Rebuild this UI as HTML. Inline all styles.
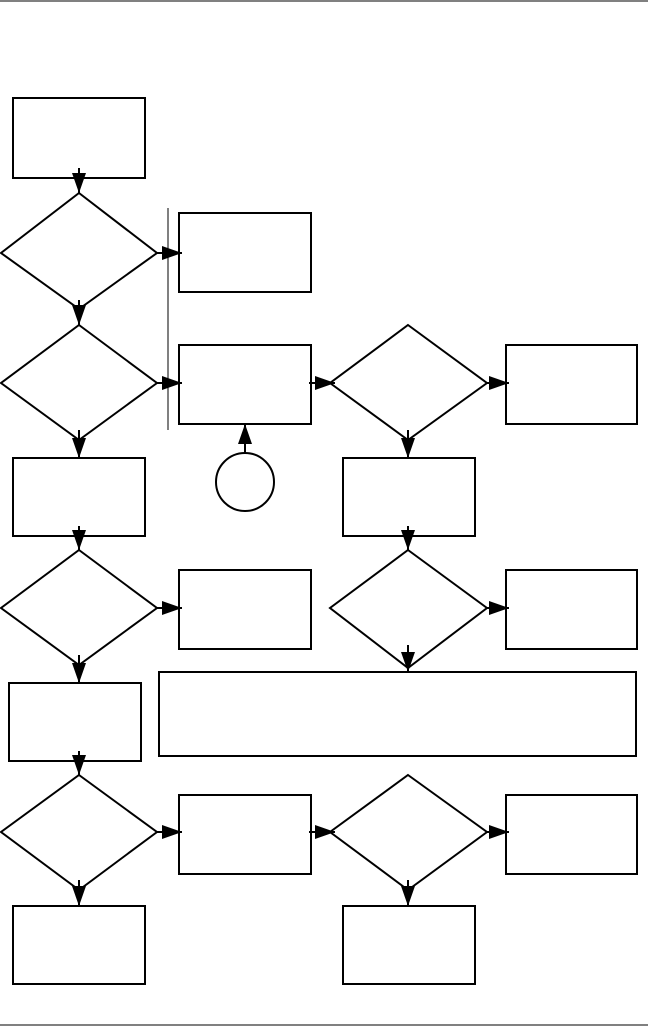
<!DOCTYPE html>
<html><head><meta charset="utf-8"><style>html,body{margin:0;padding:0;background:#fff}svg{display:block}</style></head>
<body>
<svg width="648" height="1027" viewBox="0 0 648 1027" xmlns="http://www.w3.org/2000/svg">
<defs>
<marker id="a" markerWidth="20" markerHeight="14" refX="20" refY="7" orient="auto" markerUnits="userSpaceOnUse">
<path d="M0,0 L20,7 L0,14 Z" fill="#000"/>
</marker>
</defs>
<g fill="none" stroke="#000" stroke-width="2">
<line x1="0" y1="1" x2="648" y2="1" stroke-width="1"/>
<line x1="0" y1="1025" x2="648" y2="1025" stroke-width="1"/>
<line x1="168" y1="208" x2="168" y2="430" stroke-width="1"/>
<rect x="13" y="98" width="132" height="80"/>
<rect x="179" y="213" width="132" height="79"/>
<rect x="179" y="345" width="132" height="79"/>
<rect x="506" y="345" width="131" height="79"/>
<rect x="13" y="458" width="132" height="78"/>
<rect x="343" y="458" width="132" height="78"/>
<rect x="179" y="570" width="132" height="79"/>
<rect x="506" y="570" width="131" height="79"/>
<rect x="9" y="683" width="132" height="78"/>
<rect x="159" y="672" width="477" height="84"/>
<rect x="179" y="795" width="132" height="79"/>
<rect x="506" y="795" width="131" height="79"/>
<rect x="13" y="906" width="132" height="78"/>
<rect x="343" y="906" width="132" height="78"/>
<circle cx="245" cy="482" r="29"/>
<polygon points="79,193 157,253 79,309 1,253"/>
<polygon points="79,325 157,383 79,440 1,383"/>
<polygon points="408,325 487,383 408,440 330,383"/>
<polygon points="79,550 157,608 79,665 1,608"/>
<polygon points="408,550 487,608 408,668 330,608"/>
<polygon points="79,775 157,832 79,890 1,832"/>
<polygon points="408,775 487,832 408,890 330,832"/>
<g marker-end="url(#a)">
<line x1="79" y1="168" x2="79" y2="193"/>
<line x1="79" y1="300" x2="79" y2="325"/>
<line x1="79" y1="430" x2="79" y2="458"/>
<line x1="79" y1="526" x2="79" y2="550"/>
<line x1="79" y1="655" x2="79" y2="683"/>
<line x1="79" y1="751" x2="79" y2="775"/>
<line x1="79" y1="880" x2="79" y2="906"/>
<line x1="408" y1="430" x2="408" y2="458"/>
<line x1="408" y1="526" x2="408" y2="550"/>
<line x1="408" y1="645" x2="408" y2="672"/>
<line x1="408" y1="880" x2="408" y2="906"/>
<line x1="157" y1="253" x2="182" y2="253"/>
<line x1="157" y1="383" x2="182" y2="383"/>
<line x1="157" y1="608" x2="182" y2="608"/>
<line x1="157" y1="832" x2="182" y2="832"/>
<line x1="487" y1="383" x2="509" y2="383"/>
<line x1="487" y1="608" x2="509" y2="608"/>
<line x1="487" y1="832" x2="509" y2="832"/>
<line x1="309" y1="383" x2="335" y2="383"/>
<line x1="309" y1="832" x2="335" y2="832"/>
<line x1="245" y1="453" x2="245" y2="424"/>
</g>
</g>
</svg>
</body></html>
